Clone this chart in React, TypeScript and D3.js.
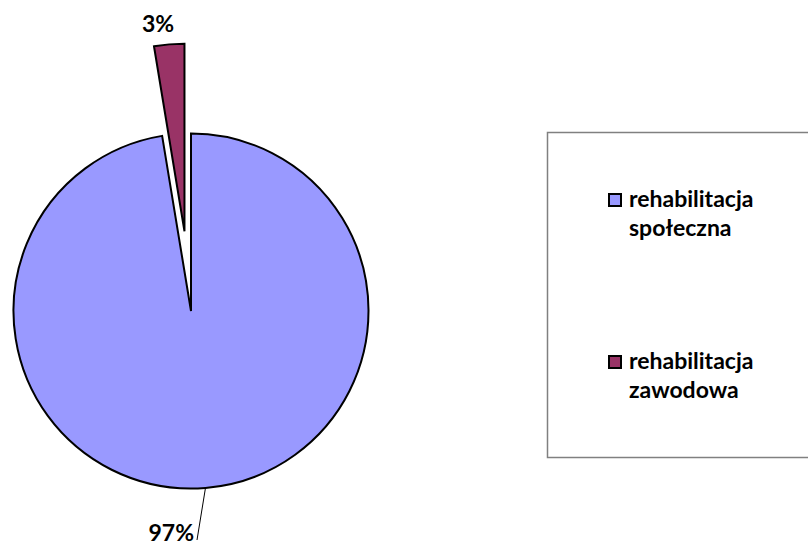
import React, { useEffect, useRef } from "react";
import * as d3 from "d3";

const categories = ["rehabilitacja społeczna", "rehabilitacja zawodowa"];
const values = [97.4, 2.6];
const pctLabels = ["97%", "3%"];
const colors = ["#9999FF", "#993366"];
const legendLines = [
  ["rehabilitacja", "społeczna"],
  ["rehabilitacja", "zawodowa"],
];

const W = 808;
const H = 547;

export default function App() {
  const ref = useRef<SVGSVGElement>(null);

  useEffect(() => {
    const svg = d3.select(ref.current);
    svg.selectAll("*").remove();

    const cx = 191;
    const cy = 311;
    const r = 177.5;
    const explode = 80;
    const font = "Lato, 'Open Sans', sans-serif";

    const data = categories.map((c, i) => ({ name: c, value: values[i], i }));
    const pie = d3
      .pie<any>()
      .value((d) => d.value)
      .sort(null);
    const arcs = pie(data);
    const arc = d3.arc<any>().innerRadius(0).outerRadius(r);
    // the pulled-out slice is drawn a little longer, as in the original
    const arcOut = d3.arc<any>().innerRadius(0).outerRadius(r + 10);

    const g = svg.append("g").attr("transform", `translate(${cx},${cy})`);

    arcs.forEach((a) => {
      const mid = (a.startAngle + a.endAngle) / 2;
      const isOut = a.data.i === 1;
      const off = isOut ? explode : 0;
      g.append("path")
        .attr("d", isOut ? arcOut(a) : arc(a))
        .attr("transform", `translate(${Math.sin(mid) * off},${-Math.cos(mid) * off})`)
        .attr("fill", colors[a.data.i])
        .attr("stroke", "#000")
        .attr("stroke-width", 2)
        .attr("stroke-linejoin", "miter");
    });

    // 97% label with leader line
    const big = arcs[0];
    const mBig = (big.startAngle + big.endAngle) / 2;
    g.append("line")
      .attr("x1", Math.sin(mBig) * r)
      .attr("y1", -Math.cos(mBig) * r)
      .attr("x2", 197 - cx)
      .attr("y2", 540 - cy)
      .attr("stroke", "#000")
      .attr("stroke-width", 1);
    svg
      .append("text")
      .attr("x", 194)
      .attr("y", 541)
      .attr("text-anchor", "end")
      .attr("font-family", font)
      .attr("font-weight", "bold")
      .attr("font-size", 23)
      .text(pctLabels[0]);

    // 3% label
    svg
      .append("text")
      .attr("x", 158)
      .attr("y", 32)
      .attr("text-anchor", "middle")
      .attr("font-family", font)
      .attr("font-weight", "bold")
      .attr("font-size", 23)
      .text(pctLabels[1]);

    // legend
    svg
      .append("rect")
      .attr("x", 547.5)
      .attr("y", 132.5)
      .attr("width", 300)
      .attr("height", 325)
      .attr("fill", "#fff")
      .attr("stroke", "#808080")
      .attr("stroke-width", 1.5);

    const itemY = [194, 356];
    legendLines.forEach((lines, i) => {
      svg
        .append("rect")
        .attr("x", 609)
        .attr("y", itemY[i])
        .attr("width", 12)
        .attr("height", 12)
        .attr("fill", colors[i])
        .attr("stroke", "#000")
        .attr("stroke-width", 2);
      lines.forEach((t, j) => {
        svg
          .append("text")
          .attr("x", 629)
          .attr("y", itemY[i] + 13 + j * 29)
          .attr("font-family", font)
          .attr("font-weight", "bold")
          .attr("font-size", 23)
          .attr("fill", "#000")
          .text(t);
      });
    });
  }, []);

  return (
    <svg
      ref={ref}
      width={W}
      height={H}
      viewBox={`0 0 ${W} ${H}`}
      style={{ position: "absolute", left: 0, top: 0, background: "#fff" }}
    />
  );
}
